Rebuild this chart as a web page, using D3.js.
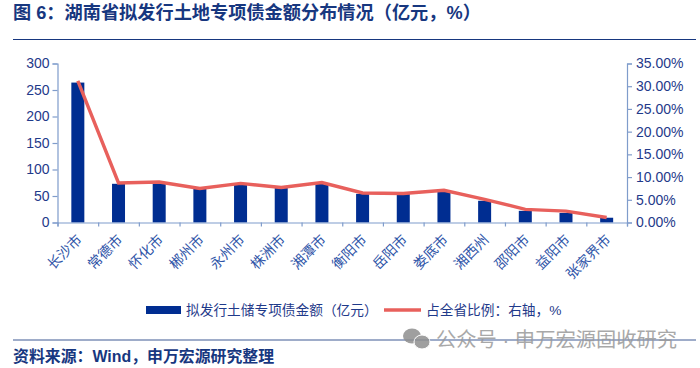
<!DOCTYPE html>
<html>
<head>
<meta charset="utf-8">
<script src="https://cdn.jsdelivr.net/npm/d3@7"></script>
<style>
  html, body { margin: 0; padding: 0; background: #fff; }
  text { font-family: "Liberation Sans", "Noto Sans CJK SC", sans-serif; }
</style>
</head>
<body>
<div id="svg-holder"></div>
<script>
// values
const cities = ['长沙市', '常德市', '怀化市', '郴州市', '永州市', '株洲市', '湘潭市', '衡阳市', '岳阳市', '娄底市', '湘西州', '邵阳市', '益阳市', '张家界市'];
const amounts = [264, 73, 74, 64, 71, 65, 73, 54, 54, 58, 41, 22, 18, 9];
const shares = [31.2, 8.7, 8.9, 7.5, 8.6, 7.7, 8.8, 6.5, 6.4, 7.1, 5.1, 2.9, 2.5, 1.1];
const leftTicks = [0, 50, 100, 150, 200, 250, 300];
const rightTicks = [0, 5, 10, 15, 20, 25, 30, 35];

const navy = '#002D91';
const red = '#E8605C';
const textBlue = '#1F3A8A';
const axisBlue = '#7F9CCB';

const margin = {top: 63.5, right: 73, bottom: 145.5, left: 57.5},
    width = 700 - margin.left - margin.right,
    height = 368 - margin.top - margin.bottom;

const root = d3.select('#svg-holder')
    .append('svg')
    .attr('width', 700)
    .attr('height', 368)
    .style('display', 'block');

// title and rules
root.append('text')
    .attr('x', 13).attr('y', 19)
    .attr('font-size', 18.2).attr('font-weight', 700)
    .attr('fill', '#17377F')
    .text('图 6：湖南省拟发行土地专项债金额分布情况（亿元，%）');

root.append('line')
    .attr('x1', 13).attr('x2', 696).attr('y1', 39.5).attr('y2', 39.5)
    .attr('stroke', '#17377F').attr('stroke-width', 1.2);

root.append('line')
    .attr('x1', 13).attr('x2', 696).attr('y1', 340).attr('y2', 340)
    .attr('stroke', '#3F5A94').attr('stroke-width', 1.2);

root.append('text')
    .attr('x', 13).attr('y', 362)
    .attr('font-size', 15.9).attr('font-weight', 700)
    .attr('fill', '#17377F')
    .text('资料来源：Wind，申万宏源研究整理');

const svg = root.append('g')
    .attr('transform', 'translate(' + margin.left + ',' + margin.top + ')');

const x = d3.scaleBand().domain(cities).range([0, width]);
const y = d3.scaleLinear().domain([0, 300]).range([height, 0]);
const y2 = d3.scaleLinear().domain([0, 35]).range([height, 0]);

svg.selectAll('rect.bar')
    .data(cities)
    .join('rect')
    .attr('class', 'bar')
    .attr('x', d => x(d) + x.bandwidth() / 2 - 6.5)
    .attr('width', 13)
    .attr('y', (d, i) => y(amounts[i]))
    .attr('height', (d, i) => height - y(amounts[i]))
    .attr('fill', navy);

const line = d3.line()
    .x(d => x(d) + x.bandwidth() / 2)
    .y((d, i) => y2(shares[i]));

svg.append('path')
    .datum(cities)
    .attr('d', line)
    .attr('fill', 'none')
    .attr('stroke', red)
    .attr('stroke-width', 3.4);

// axes
const leftAxis = svg.append('g')
    .call(d3.axisLeft(y).tickValues(leftTicks).tickSize(5).tickPadding(3));
const rightAxis = svg.append('g')
    .attr('transform', 'translate(' + width + ',0)')
    .call(d3.axisRight(y2).tickValues(rightTicks).tickSize(5).tickPadding(4).tickFormat(d => d.toFixed(2) + '%'));

// category ticks sit on the band edges
const bottomScale = d3.scalePoint().domain(d3.range(cities.length + 1)).range([0, width]);
const bottomAxis = svg.append('g')
    .attr('transform', 'translate(0,' + height + ')')
    .call(d3.axisBottom(bottomScale).tickSize(4).tickFormat(''));

[leftAxis, rightAxis, bottomAxis].forEach(a => {
    a.selectAll('path,line').attr('stroke', axisBlue).attr('stroke-width', 1.2);
    a.selectAll('text').attr('fill', textBlue).attr('font-size', 14);
});

svg.append('g')
    .selectAll('text')
    .data(cities)
    .join('text')
    .attr('transform', d => 'translate(' + (x(d) + x.bandwidth() / 2 + 5) + ',' + (height + 18) + ') rotate(-45)')
    .attr('text-anchor', 'end')
    .attr('font-size', 14)
    .attr('fill', '#2F55A8')
    .text(d => d);

// legend
const legend = root.append('g');
legend.append('rect')
    .attr('x', 146).attr('y', 306).attr('width', 35).attr('height', 8)
    .attr('fill', navy);
legend.append('text')
    .attr('x', 186).attr('y', 315)
    .attr('font-size', 13.7).attr('fill', textBlue)
    .text('拟发行土储专项债金额（亿元）');
legend.append('line')
    .attr('x1', 384).attr('x2', 421).attr('y1', 310).attr('y2', 310)
    .attr('stroke', red).attr('stroke-width', 3.4);
legend.append('text')
    .attr('x', 426).attr('y', 315)
    .attr('font-size', 13.7).attr('fill', textBlue)
    .text('占全省比例：右轴，%');

// watermark
const mark = root.append('g').attr('fill', '#8F8F8F').attr('opacity', 0.85);
mark.append('ellipse').attr('cx', 412).attr('cy', 336).attr('rx', 9).attr('ry', 7.5);
mark.append('ellipse').attr('cx', 422).attr('cy', 342).attr('rx', 8).attr('ry', 7).attr('stroke', '#fff').attr('stroke-width', 1);
root.append('text')
    .attr('x', 436).attr('y', 347)
    .attr('font-size', 20.3)
    .attr('fill', '#9A9A9A')
    .attr('opacity', 0.85)
    .text('公众号 · 申万宏源固收研究');
</script>
</body>
</html>
